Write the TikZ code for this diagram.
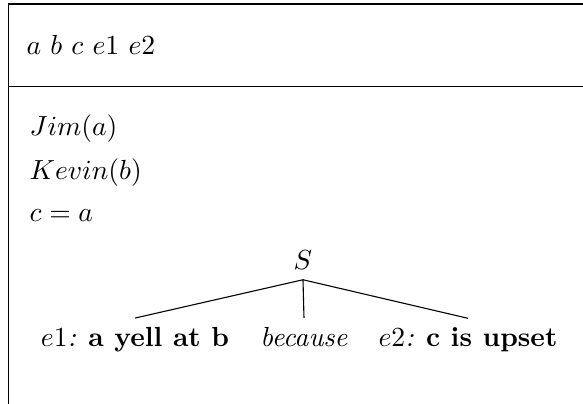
\documentclass[tikz,border=0pt]{standalone}
\usetikzlibrary{positioning}

\tikzset{every picture/.style={line width=0.4pt}}
\tikzset{cond/.style={anchor=base west,inner sep=0.75pt}}
\tikzset{leaf/.style={anchor=base}}

\begin{document}
\begin{tikzpicture}[x=0.362pt,y=0.362pt,yscale=-1,xscale=1]
\useasboundingbox (0,0) rectangle (583,404);

%Shape: Box frame
\draw (583,4) -- (8.5,4) -- (8.5,404) ;
%Shape: Divider
\draw (8.5,86.5) -- (583,86.5) ;

% Text Node
\draw (24,55) node [cond] (univ) {$a\ b\ c\ e1\ e2$};
% Text Node
\draw (27,136) node [cond] (jim) {$Jim(a)$};
% Text Node
\draw (27,180) node [cond] (kevin) {$Kevin(b)$};
% Text Node
\draw (27,222) node [cond] (eq) {$c=a$};

% Tree
\draw (303,270) node [leaf] (s) {$S$};
\draw (135,347) node [leaf] (left) {$e1$\textit{:} \textbf{a yell at b}};
\draw (304,347) node [leaf] (mid) {\textit{because}};
\draw (468,347) node [leaf] (right) {$e2$\textit{:} \textbf{c is upset}};

\draw (s.south) -- (left.north) ;
\draw (s.south) -- (mid.north) ;
\draw (s.south) -- (right.north) ;

\end{tikzpicture}
\end{document}
